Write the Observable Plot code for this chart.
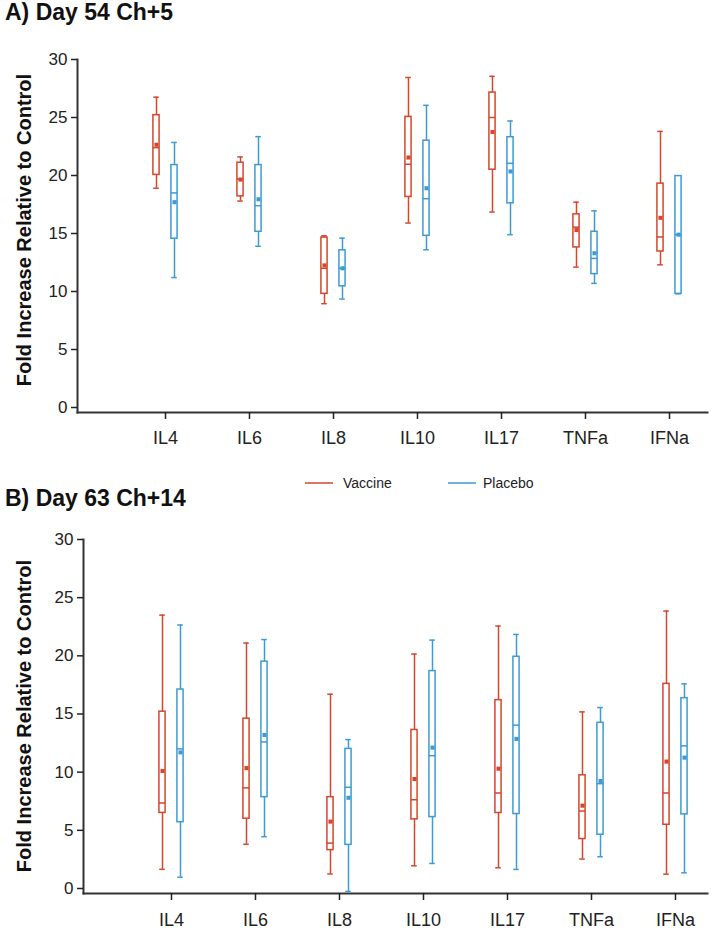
<!DOCTYPE html>
<html><head><meta charset="utf-8">
<script src="https://cdn.jsdelivr.net/npm/d3@7"></script>
<script src="https://cdn.jsdelivr.net/npm/@observablehq/plot@0.6"></script>
<style>
body{margin:0;background:#fff;font-family:"Liberation Sans",Arial,sans-serif;}
#wrap{position:relative;width:712px;height:931px;overflow:hidden;}
.title{position:absolute;left:5px;font-weight:bold;font-size:23px;line-height:23px;color:#111;white-space:nowrap;}
.panel{position:absolute;left:0;}
.panel svg{overflow:visible;}
.ylab{position:absolute;width:400px;height:22px;line-height:22px;font-size:20px;font-weight:bold;color:#111;text-align:center;white-space:nowrap;transform:rotate(-90deg);transform-origin:50% 50%;z-index:2;}
.leg{position:absolute;top:474px;font-size:14px;line-height:18px;color:#222;white-space:nowrap;}
.leg span.sw{position:absolute;top:8px;height:2px;width:28px;}
</style></head><body>
<div id="wrap">
  <div class="title" style="top:1px">A) Day 54 Ch+5</div>
  <div class="panel" id="pA" style="top:30px"></div>
  <div class="ylab" id="labA" style="left:-176px;top:219px"></div>
  <div class="leg" style="left:305px"><span class="sw" style="left:0;background:#d4472c;opacity:.75"></span><span style="position:absolute;left:38px">Vaccine</span></div>
  <div class="leg" style="left:448px"><span class="sw" style="left:0;background:#3d9bd1;opacity:.75"></span><span style="position:absolute;left:35px">Placebo</span></div>
  <div class="title" style="top:487px">B) Day 63 Ch+14</div>
  <div class="panel" id="pB" style="top:520px"></div>
  <div class="ylab" id="labB" style="left:-176.5px;top:705px"></div>
</div>
<script>
// ---- data ----
const cytokines = ["IL4", "IL6", "IL8", "IL10", "IL17", "TNFa", "IFNa"];
const groups = ["Vaccine", "Placebo"];
const groupColors = ["#d4472c", "#3d9bd1"];
const yTicks = [0, 5, 10, 15, 20, 25, 30];
const yLabel = "Fold Increase Relative to Control";
// each row: [min, q1, median, q3, max, mean] per cytokine
const day54Vaccine = [
  [18.9, 20.05, 22.4, 25.2, 26.75, 22.65],
  [17.8, 18.2, 19.7, 21.1, 21.6, 19.65],
  [8.95, 9.8, 12.0, 14.65, 14.8, 12.25],
  [15.9, 18.15, 20.97, 25.05, 28.45, 21.55],
  [16.85, 20.5, 25.0, 27.15, 28.55, 23.75],
  [12.1, 13.8, 15.55, 16.65, 17.7, 15.3],
  [12.3, 13.45, 14.7, 19.3, 23.8, 16.35]
];
const day54Placebo = [
  [11.2, 14.55, 18.5, 20.9, 22.85, 17.7],
  [13.9, 15.15, 17.4, 20.9, 23.35, 17.95],
  [9.35, 10.45, 12.0, 13.55, 14.6, 12.0],
  [13.6, 14.8, 18.0, 23.0, 26.05, 18.9],
  [14.9, 17.6, 21.05, 23.3, 24.7, 20.35],
  [10.7, 11.5, 12.85, 15.15, 16.95, 13.3],
  [9.8, 9.8, 14.9, 19.95, 19.95, 14.9]
];
const day63Vaccine = [
  [1.65, 6.5, 7.35, 15.2, 23.5, 10.1],
  [3.8, 6.0, 8.65, 14.6, 21.1, 10.35],
  [1.25, 3.3, 3.9, 7.85, 16.7, 5.75],
  [1.95, 5.94, 7.63, 13.63, 20.15, 9.41],
  [1.78, 6.49, 8.21, 16.19, 22.56, 10.3],
  [2.53, 4.25, 6.66, 9.73, 15.18, 7.12],
  [1.23, 5.48, 8.21, 17.59, 23.85, 10.91]
];
const day63Placebo = [
  [0.97, 5.7, 12.0, 17.1, 22.65, 11.7],
  [4.45, 7.85, 12.6, 19.5, 21.4, 13.2],
  [-0.25, 3.75, 8.7, 12.0, 12.8, 7.8],
  [2.15, 6.14, 11.42, 18.69, 21.35, 12.11],
  [1.64, 6.4, 14.04, 19.92, 21.84, 12.86],
  [2.73, 4.62, 9.01, 14.24, 15.56, 9.24],
  [1.35, 6.37, 12.26, 16.36, 17.59, 11.25]
];

function rowsOf(arr) {
  return arr.map((v, i) => ({cat: cytokines[i], min: v[0], q1: v[1], med: v[2], q3: v[3], max: v[4], mean: v[5]}));
}

function panel(series, cfg) {
  const bw = (cfg.xr[1] - cfg.xr[0]) / (cytokines.length - 1);
  const offs = [-9, 9];
  const hb = 3.5, hc = 3.2;
  const marks = [];
  series.forEach((arr, gi) => {
    const rows = rowsOf(arr);
    const off = offs[gi], color = groupColors[gi];
    const boxIns = {insetLeft: bw / 2 + off - hb, insetRight: bw / 2 - off - hb};
    const capIns = {insetLeft: bw / 2 + off - hc, insetRight: bw / 2 - off - hc};
    marks.push(Plot.ruleX(rows, {x: "cat", y1: "min", y2: "max", dx: off, stroke: color, strokeWidth: 1.5}));
    marks.push(Plot.tickY(rows, {x: "cat", y: "max", stroke: color, strokeWidth: 1.5, ...capIns}));
    marks.push(Plot.tickY(rows, {x: "cat", y: "min", stroke: color, strokeWidth: 1.5, ...capIns}));
    marks.push(Plot.barY(rows, {x: "cat", y1: "q1", y2: "q3", fill: "white", stroke: color, strokeWidth: 1.5, ...boxIns}));
    marks.push(Plot.tickY(rows, {x: "cat", y: "med", stroke: color, strokeWidth: 1.5, ...boxIns}));
    marks.push(Plot.dot(rows, {x: "cat", y: "mean", dx: off, symbol: "square", r: 2.3, fill: color, stroke: null}));
  });
  return Plot.plot({
    width: 712, height: cfg.height,
    marginLeft: cfg.ml, marginRight: 5, marginTop: cfg.mt, marginBottom: cfg.mb,
    style: {fontFamily: "Liberation Sans, Arial, sans-serif", fontSize: "16px", color: "#222", background: "transparent", overflow: "visible"},
    x: {type: "band", domain: cytokines, range: [cfg.xr[0] - bw / 2, cfg.xr[1] + bw / 2], padding: 0, axis: null},
    y: {domain: [0, 30], range: cfg.yr, axis: null},
    marks: [
      Plot.frame({anchor: "left", stroke: "#333", strokeWidth: 2}),
      Plot.frame({anchor: "bottom", stroke: "#333", strokeWidth: 2}),
      Plot.axisY({ticks: yTicks, tickSize: 6, tickPadding: 4, fontSize: 17, color: "#222", strokeWidth: 1.5, label: null}),
      Plot.axisX({tickSize: 7, tickPadding: cfg.tp, fontSize: 18, color: "#222", strokeWidth: 1.5, label: null}),
      ...marks
    ]
  });
}

document.getElementById("pA").append(panel([day54Vaccine, day54Placebo],
  {height: 410, ml: 77, mt: 29, mb: 28, xr: [163, 672], yr: [377, 29], tp: 12}));
document.getElementById("pB").append(panel([day63Vaccine, day63Placebo],
  {height: 411, ml: 83, mt: 19, mb: 38, xr: [169, 678], yr: [368, 19], tp: 13}));
document.getElementById("labA").textContent = yLabel;
document.getElementById("labB").textContent = yLabel;
</script>
</body></html>
